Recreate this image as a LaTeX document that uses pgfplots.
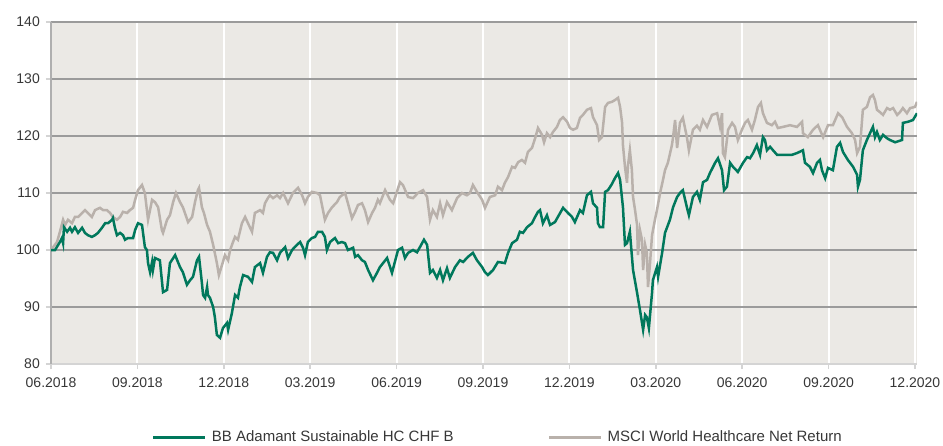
\documentclass[border=0pt]{standalone}
\usepackage{pgfplots}
\pgfplotsset{compat=1.18}
\usepackage{fontspec}
\setmainfont{Liberation Sans}
\definecolor{bgc}{RGB}{235,233,229}
\definecolor{hgrid}{RGB}{155,155,155}
\definecolor{yax}{RGB}{175,175,175}
\definecolor{xax}{RGB}{212,212,212}
\definecolor{fund}{RGB}{0,120,92}
\definecolor{bench}{RGB}{185,177,171}
\definecolor{txt}{RGB}{55,55,55}
\begin{document}
\begin{tikzpicture}[x=1pt,y=1pt]
\useasboundingbox (0,0) rectangle (943,445);
\begin{axis}[
  at={(51pt,81pt)}, anchor=south west,
  scale only axis, width=866pt, height=342pt,
  xmin=0, xmax=30.07, ymin=80, ymax=140,
  axis background/.style={fill=bgc},
  axis x line*=bottom, axis y line*=left,
  x axis line style={draw=xax, line width=2pt},
  y axis line style={draw=yax, line width=2pt},
  xtick={0,3,6,9,12,15,18,21,24,27,30},
  xticklabels={06.2018,09.2018,12.2018,03.2019,06.2019,09.2019,12.2019,03.2020,06.2020,09.2020,12.2020},
  ytick={80,90,...,140},
  tick align=outside, major tick length=5pt,
  tick style={draw=xax, line width=1.5pt},
  xmajorgrids, ymajorgrids,
  x grid style={draw=white, line width=2pt},
  y grid style={draw=hgrid, line width=1.3pt},
  ticklabel style={font=\fontsize{14}{16}\selectfont, text=txt},
  /pgf/number format/assume math mode=true,
  yticklabel style={inner sep=0pt, xshift=-6pt},
  xticklabel style={inner sep=0pt, yshift=-9pt},
  legend columns=2,
  legend style={at={(0.1166,-0.2135)}, anchor=west, draw=none, fill=none,
    inner sep=0pt, outer sep=0pt, font=\fontsize{15}{17}\selectfont, text=txt,
    nodes={inner sep=0pt},
    /tikz/every odd column/.append style={column sep=5pt},
    /tikz/every even column/.append style={column sep=94pt}},
  legend image code/.code={\draw[#1, line width=3pt] (0pt,0pt) -- (52pt,0pt);},
]
\addplot[bench, line width=2.5pt, forget plot] coordinates {
(0,100)(0.21,101.4)(0.31,103.2)(0.42,105.3)(0.49,104.4)(0.59,105.3)(0.73,104.7)(0.83,105.8)(0.94,105.8)(1.08,106.5)(1.18,107.0)(1.28,106.5)(1.42,105.8)(1.53,107.0)(1.70,107.4)(1.81,107.0)(1.94,107.0)(2.05,106.5)(2.15,105.8)(2.29,105.3)(2.40,105.8)(2.50,106.7)(2.64,106.5)(2.74,107.0)(2.85,107.4)(2.92,108.8)(3.02,110.5)(3.16,111.4)(3.26,110.0)(3.37,105.3)(3.51,108.8)(3.61,108.4)(3.72,107.5)(3.85,103.5)(3.89,103.0)(4.03,105.3)(4.13,106.1)(4.24,108.4)(4.34,110.0)(4.48,108.4)(4.58,107.5)(4.76,104.9)(4.90,105.8)(5.00,108.4)(5.10,110.5)(5.14,110.9)(5.24,107.5)(5.31,106.5)(5.42,104.4)(5.52,103.2)(5.63,100.9)(5.76,97.7)(5.83,95.6)(5.94,97.4)(6.04,99.1)(6.15,98.2)(6.22,100.0)(6.32,101.4)(6.39,102.3)(6.49,101.8)(6.63,104.7)(6.74,105.8)(6.84,104.7)(6.98,103.2)(7.08,106.5)(7.26,107.0)(7.36,106.5)(7.43,108.2)(7.53,109.1)(7.60,109.6)(7.71,109.1)(7.85,109.6)(7.95,109.1)(8.06,110.0)(8.23,108.2)(8.40,110.0)(8.58,110.9)(8.72,109.6)(8.82,108.2)(8.92,109.3)(9.06,110.2)(9.24,110.0)(9.34,109.6)(9.51,105.3)(9.62,106.5)(9.76,107.5)(9.93,108.4)(10.03,109.3)(10.21,110.0)(10.31,108.2)(10.45,105.6)(10.56,106.7)(10.66,107.9)(10.80,108.2)(10.90,107.0)(11.01,104.9)(11.15,106.5)(11.25,107.4)(11.35,108.8)(11.42,108.2)(11.60,110.5)(11.77,108.8)(11.88,108.2)(12.12,111.9)(12.22,111.4)(12.40,109.3)(12.57,109.1)(12.74,110.0)(12.92,110.5)(13.06,109.3)(13.16,105.3)(13.26,107.0)(13.40,105.8)(13.51,108.2)(13.61,106.1)(13.75,108.4)(13.92,107.0)(14.10,109.1)(14.27,110.0)(14.44,109.6)(14.55,110.0)(14.65,111.4)(14.79,110.2)(14.97,108.8)(15.07,107.4)(15.24,109.3)(15.42,109.6)(15.52,111.1)(15.66,110.5)(15.76,111.8)(15.87,112.8)(16.01,114.6)(16.11,114.4)(16.22,115.4)(16.35,115.8)(16.46,115.3)(16.56,117.2)(16.70,117.9)(16.81,119.6)(16.91,121.4)(17.05,120.2)(17.12,118.9)(17.22,120.5)(17.33,119.8)(17.43,120.7)(17.57,121.6)(17.67,122.8)(17.78,123.3)(17.92,122.5)(18.02,121.4)(18.13,121.1)(18.26,121.4)(18.37,123.2)(18.47,123.7)(18.61,124.6)(18.75,124.9)(18.82,123.3)(18.96,121.9)(19.03,119.3)(19.13,119.8)(19.24,125.1)(19.34,125.8)(19.48,126.0)(19.58,126.3)(19.69,126.7)(19.76,125.1)(19.83,122.3)(19.86,118.4)(19.93,114.6)(20.00,111.8)(20.03,114.6)(20.10,117.5)(20.17,114.0)(20.21,109.3)(20.28,107.0)(20.35,104.4)(20.38,99.1)(20.45,103.5)(20.52,101.8)(20.56,96.5)(20.63,100.9)(20.69,99.5)(20.73,93.5)(20.80,97.7)(20.87,102.6)(20.97,105.3)(21.04,107.0)(21.15,110.0)(21.25,112.3)(21.32,114.0)(21.42,115.3)(21.56,118.4)(21.60,119.8)(21.67,122.8)(21.74,117.9)(21.84,122.3)(21.94,123.2)(22.08,119.8)(22.15,117.5)(22.29,121.1)(22.43,121.8)(22.53,121.1)(22.64,122.8)(22.78,121.6)(22.95,123.7)(23.13,124.0)(23.23,121.6)(23.30,124.0)(23.33,117.0)(23.40,116.3)(23.51,121.1)(23.65,122.3)(23.75,121.6)(23.85,119.3)(23.99,121.1)(24.10,122.3)(24.20,122.8)(24.34,121.1)(24.44,122.8)(24.55,125.1)(24.65,125.8)(24.72,124.0)(24.86,122.3)(25.03,121.9)(25.14,122.5)(25.24,121.4)(25.42,121.6)(25.66,121.9)(25.90,121.6)(26.08,122.5)(26.11,120.5)(26.28,119.8)(26.46,121.1)(26.63,121.9)(26.81,119.8)(26.98,121.9)(27.15,121.9)(27.33,124.0)(27.47,123.3)(27.64,121.6)(27.81,120.5)(27.92,119.3)(27.99,117.0)(28.09,118.1)(28.19,124.6)(28.33,125.1)(28.44,126.8)(28.54,127.2)(28.61,126.3)(28.68,124.6)(28.78,124.2)(28.89,123.7)(29.03,124.9)(29.13,124.6)(29.24,124.9)(29.38,123.7)(29.48,124.2)(29.58,124.9)(29.72,124.0)(29.83,124.9)(30.00,125.1)(30.07,126.0)
};
\addplot[fund, line width=2.5pt, forget plot] coordinates {
(0.00,100.0)(0.14,100.0)(0.31,101.4)(0.38,102.1)(0.42,101.2)(0.45,104.0)(0.56,103.2)(0.66,103.9)(0.73,103.2)(0.83,104.0)(0.94,103.0)(1.08,103.9)(1.18,103.0)(1.28,102.6)(1.42,102.3)(1.53,102.6)(1.63,103.0)(1.77,103.9)(1.88,104.7)(1.98,104.7)(2.12,105.3)(2.15,105.6)(2.22,103.9)(2.29,102.6)(2.40,103.0)(2.50,102.6)(2.57,101.8)(2.67,102.1)(2.85,102.1)(2.92,103.5)(3.02,104.7)(3.16,104.4)(3.26,100.5)(3.33,100.0)(3.37,97.7)(3.44,96.1)(3.51,97.9)(3.54,96.5)(3.61,98.6)(3.78,98.2)(3.89,92.6)(4.03,93.0)(4.13,97.7)(4.31,99.1)(4.48,97.0)(4.58,96.1)(4.72,93.9)(4.83,94.7)(4.93,95.3)(5.07,98.2)(5.14,98.8)(5.24,94.2)(5.28,92.1)(5.35,91.6)(5.42,93.5)(5.45,92.1)(5.52,91.6)(5.63,90.0)(5.69,88.2)(5.76,85.1)(5.87,84.6)(5.97,86.3)(6.11,87.2)(6.15,86.0)(6.28,88.9)(6.39,92.1)(6.49,91.6)(6.56,93.5)(6.67,95.6)(6.84,95.3)(6.98,94.4)(7.08,97.0)(7.26,97.7)(7.36,96.0)(7.50,98.8)(7.60,99.6)(7.71,99.5)(7.85,98.2)(7.95,99.5)(8.13,100.5)(8.23,98.6)(8.37,100.0)(8.54,100.9)(8.65,101.4)(8.75,100.4)(8.82,99.1)(8.92,101.4)(9.06,102.1)(9.17,102.3)(9.27,103.2)(9.41,103.2)(9.51,102.3)(9.58,100.0)(9.69,101.4)(9.86,102.1)(9.97,101.2)(10.10,101.4)(10.21,101.2)(10.31,100.0)(10.49,100.4)(10.56,98.8)(10.66,99.1)(10.80,98.2)(10.90,97.9)(11.01,96.5)(11.18,94.7)(11.32,96.0)(11.42,97.0)(11.67,98.6)(11.84,96.0)(12.05,100.0)(12.19,100.4)(12.29,98.6)(12.40,99.5)(12.57,100.0)(12.71,99.6)(12.81,100.5)(12.95,101.8)(13.06,100.9)(13.16,96.0)(13.26,96.5)(13.40,95.1)(13.51,96.5)(13.61,94.7)(13.75,96.8)(13.85,95.1)(14.03,97.0)(14.20,98.2)(14.31,97.9)(14.48,98.8)(14.65,99.5)(14.79,98.2)(14.97,97.0)(15.07,96.1)(15.17,95.6)(15.35,96.5)(15.52,97.9)(15.76,97.7)(15.87,99.5)(16.01,101.2)(16.18,101.8)(16.28,103.2)(16.39,103.0)(16.53,104.0)(16.70,104.7)(16.81,105.8)(16.91,106.7)(16.98,107.0)(17.08,104.7)(17.22,106.1)(17.33,104.4)(17.50,104.9)(17.60,105.8)(17.78,107.4)(17.95,106.5)(18.09,105.8)(18.19,104.9)(18.37,107.0)(18.47,106.5)(18.61,109.6)(18.75,110.2)(18.82,108.2)(18.96,107.4)(18.99,104.7)(19.06,104.0)(19.17,104.0)(19.24,110.2)(19.34,110.5)(19.48,111.6)(19.58,112.6)(19.69,113.5)(19.76,112.3)(19.86,107.5)(19.93,100.9)(20.00,101.2)(20.10,103.2)(20.21,96.5)(20.35,92.5)(20.45,89.5)(20.56,86.0)(20.63,88.6)(20.69,88.2)(20.76,86.3)(20.87,92.5)(20.90,94.7)(21.04,97.0)(21.08,95.3)(21.22,99.5)(21.32,103.0)(21.49,105.3)(21.60,107.5)(21.74,109.3)(21.84,110.0)(21.94,110.5)(22.08,107.5)(22.15,106.1)(22.29,109.3)(22.43,110.2)(22.53,108.8)(22.64,111.9)(22.78,112.3)(22.88,113.5)(23.06,115.3)(23.16,116.1)(23.30,114.0)(23.37,110.5)(23.47,111.1)(23.58,115.3)(23.68,114.6)(23.85,113.7)(24.03,115.3)(24.17,116.3)(24.27,116.1)(24.38,117.0)(24.51,118.4)(24.62,116.7)(24.72,119.8)(24.79,119.3)(24.86,117.5)(24.97,118.1)(25.07,117.5)(25.21,116.7)(25.42,116.7)(25.56,116.7)(25.73,116.7)(25.90,117.0)(26.11,117.5)(26.18,115.3)(26.35,114.6)(26.46,113.5)(26.60,115.3)(26.70,115.8)(26.77,114.0)(26.88,112.6)(26.98,114.4)(27.15,114.0)(27.29,118.1)(27.40,118.8)(27.50,117.2)(27.67,115.8)(27.85,114.6)(27.99,113.2)(28.02,111.1)(28.09,112.3)(28.19,117.5)(28.33,119.3)(28.54,121.6)(28.61,119.8)(28.68,120.7)(28.78,119.3)(28.89,120.2)(29.03,119.6)(29.13,119.3)(29.31,118.9)(29.55,119.3)(29.58,122.3)(29.76,122.5)(29.93,122.8)(30.07,124.0)
};
\addlegendimage{fund}
\addlegendentry{BB Adamant Sustainable HC CHF B}
\addlegendimage{bench}
\addlegendentry{MSCI World Healthcare Net Return}
\end{axis}
\end{tikzpicture}
\end{document}
